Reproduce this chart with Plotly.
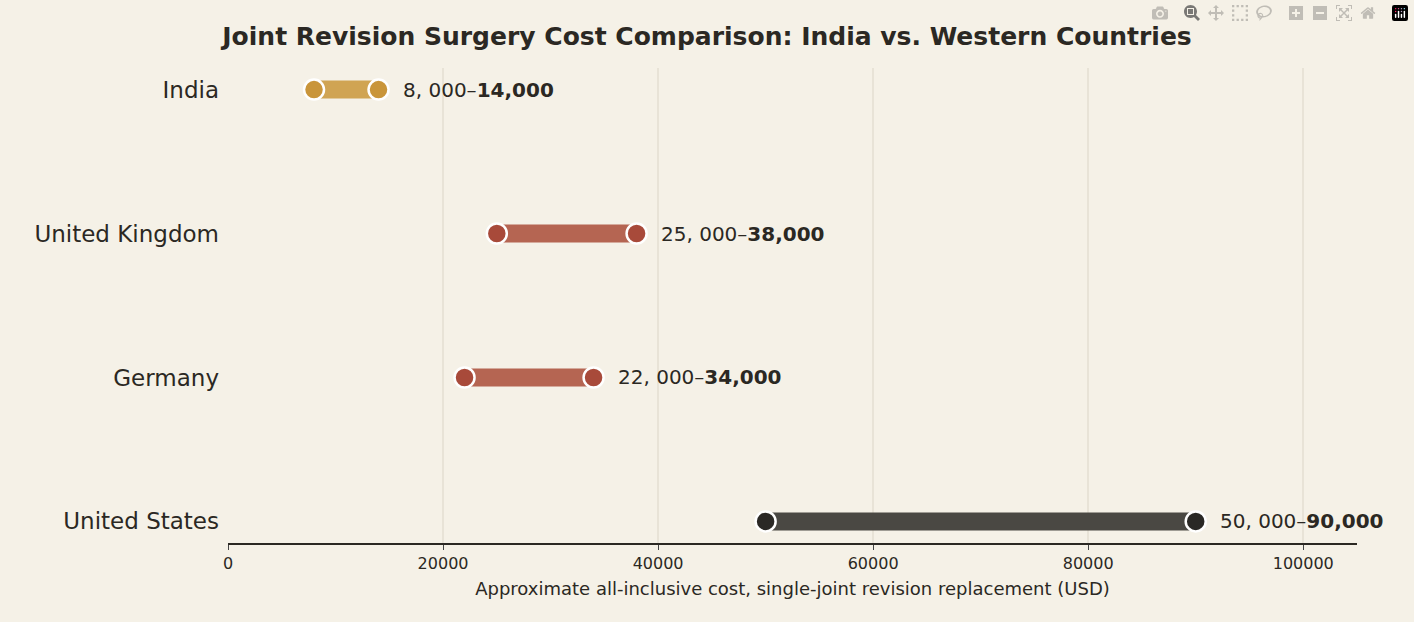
import plotly.graph_objects as go

countries = ["India", "United Kingdom", "Germany", "United States"]
low = [8000, 25000, 22000, 50000]
high = [14000, 38000, 34000, 90000]
bar_colors = ["#d0a453", "#b56552", "#b56552", "#4a4843"]
dot_colors = ["#c9953a", "#a84a3a", "#a84a3a", "#2a2825"]
labels_low = ["8, 000", "25, 000", "22, 000", "50, 000"]
labels_high = ["14,000", "38,000", "34,000", "90,000"]

fig = go.Figure()
for i, c in enumerate(countries):
    fig.add_trace(go.Scatter(x=[low[i], high[i]], y=[c, c], mode="lines",
                             line=dict(color=bar_colors[i], width=18), hoverinfo="skip", showlegend=False))
    fig.add_trace(go.Scatter(x=[low[i], high[i]], y=[c, c], mode="markers",
                             marker=dict(color=dot_colors[i], size=20, line=dict(color="white", width=2.5)),
                             showlegend=False))
    fig.add_annotation(x=high[i], y=c, text=f"{labels_low[i]}–<b>{labels_high[i]}</b>",
                       showarrow=False, xanchor="left", xshift=22,
                       font=dict(size=20, color="#2b2823", family="DejaVu Sans"))

fig.update_layout(
    width=1414, height=622, paper_bgcolor="#f5f1e7", plot_bgcolor="#f5f1e7",
    margin=dict(l=228, r=57, t=68, b=79),
    title=dict(text="<b>Joint Revision Surgery Cost Comparison: India vs. Western Countries</b>",
               x=0.5, xanchor="center", y=0.955, font=dict(size=25, color="#2b2823", family="DejaVu Sans")),
    font=dict(family="DejaVu Sans", color="#2b2823"),
)
fig.update_xaxes(range=[0, 105000], tickvals=[0, 20000, 40000, 60000, 80000, 100000],
                 ticktext=["0", "20000", "40000", "60000", "80000", "100000"],
                 showgrid=True, gridcolor="#e8e3d7", gridwidth=1.5, zeroline=False,
                 showline=True, linecolor="#2b2823", linewidth=1.5, ticks="outside", ticklen=5,
                 tickfont=dict(size=16),
                 title=dict(text="Approximate all-inclusive cost, single-joint revision replacement (USD)",
                            font=dict(size=18), standoff=10))
fig.update_yaxes(categoryorder="array", categoryarray=countries[::-1], range=[-0.15, 3.15],
                 showgrid=False, zeroline=False, tickfont=dict(size=23), ticks="", ticklabelstandoff=8)
fig.write_html("out.html")

with open("out.html", encoding="utf-8") as f:
    html = f.read()
html = html.replace("<body>", '<body style="margin:0;background:#f5f1e7">', 1)
with open("out.html", "w", encoding="utf-8") as f:
    f.write(html)
